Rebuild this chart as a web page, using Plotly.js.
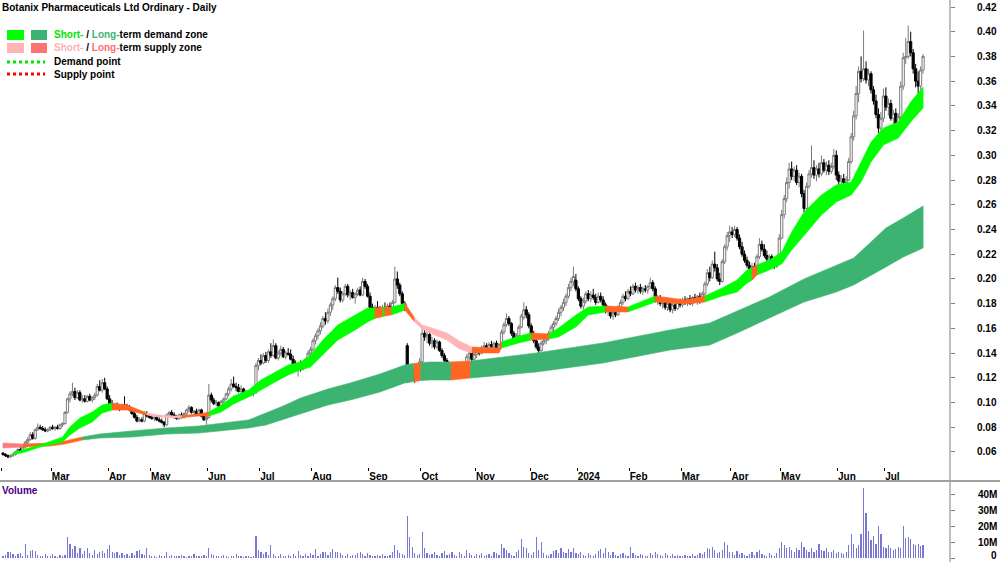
<!DOCTYPE html>
<html><head><meta charset="utf-8">
<script src="https://cdn.plot.ly/plotly-3.0.1.min.js"></script>
<style>html,body{margin:0;padding:0;background:#fff}#chart{width:1000px;height:562px}</style>
</head><body><div id="chart"></div>
<script>
// Daily OHLC in cents (trading days from 1 Feb 2023)
const openC=[
5.9,5.8,5.7,5.6,5.7,5.8,6.0,6.2,6.1,6.4,6.8,7.0,7.4,7.1,7.8,8.0,7.9,7.8,7.7,7.8,
8.0,7.9,8.0,7.9,8.2,8.3,9.2,10.3,10.7,10.9,10.4,10.8,10.2,10.3,10.1,10.5,10.2,10.4,10.6,11.3,11.0,11.6,11.1,
10.3,9.9,9.6,9.7,9.6,9.5,9.8,9.7,9.6,9.4,9.1,8.8,8.5,8.6,8.5,9.1,8.9,
8.8,8.7,8.8,8.6,8.5,8.4,8.2,9.0,9.2,9.0,8.8,8.7,9.0,8.8,9.1,9.4,9.6,9.2,9.3,9.1,9.4,8.9,8.6,
8.8,10.6,10.2,9.9,10.0,9.7,10.1,10.3,10.7,11.1,11.5,11.3,11.2,10.9,11.1,10.7,10.8,10.6,10.7,10.8,13.0,
13.4,13.2,13.8,13.4,14.1,13.8,14.6,13.6,14.0,14.3,13.7,14.0,13.9,13.5,13.0,12.8,13.1,12.7,13.2,13.5,14.0,
14.3,15.0,15.4,15.8,16.2,16.8,16.6,17.3,17.9,18.4,19.3,19.0,18.3,18.8,19.4,18.7,18.9,18.5,18.8,19.1,18.7,19.8,19.4,
18.6,17.7,17.3,17.7,17.5,17.2,17.7,17.4,17.8,17.6,18.1,20.0,19.5,18.8,18.0,14.6,12.0,12.7,12.2,11.8,12.9,
13.3,15.6,15.3,15.5,14.8,15.0,14.5,14.9,14.2,13.8,13.4,12.9,13.0,12.4,12.1,12.7,12.3,12.8,12.5,13.7,14.0,13.5,
13.9,14.2,14.0,14.4,14.6,14.3,14.7,14.5,14.8,14.4,14.7,15.7,16.3,16.8,16.4,15.6,15.1,15.4,16.1,16.9,17.5,17.1,
16.2,15.5,15.0,14.5,14.2,14.8,15.0,15.2,15.6,16.1,16.4,16.8,17.3,17.7,18.1,18.6,19.3,19.8,19.9,
19.2,18.4,17.8,18.2,18.8,18.4,18.7,18.5,18.1,18.6,18.3,17.9,17.4,17.6,17.0,17.3,17.1,17.7,18.1,18.6,18.4,
19.0,18.8,19.4,19.1,19.3,19.0,19.2,19.1,19.4,19.7,19.2,18.3,18.5,18.0,18.2,17.7,18.0,17.5,17.9,17.6,18.1,
17.9,18.3,18.1,18.4,18.0,18.5,18.3,18.6,18.2,18.8,19.6,20.5,20.1,21.2,20.9,20.0,19.8,21.4,22.6,23.5,
23.8,23.6,24.0,23.3,22.6,22.0,21.5,21.1,20.8,21.0,20.7,21.8,22.8,22.4,21.9,21.6,21.8,21.3,21.0,21.6,
23.3,25.2,26.5,27.8,28.9,28.3,28.8,27.8,28.3,26.9,25.7,27.5,28.5,29.0,28.4,28.9,28.5,29.4,28.8,29.2,28.7,29.1,30.0,
28.4,27.9,28.1,27.8,28.0,29.5,31.5,33.2,35.0,36.8,36.2,37.0,36.1,36.6,35.3,34.4,33.3,32.2,33.0,
34.8,33.9,34.2,33.0,33.4,32.5,33.1,35.6,37.9,38.0,39.2,38.3,37.0,36.0,35.6,36.9];
const highC=[
6.0,5.9,5.8,5.8,5.9,6.1,6.3,6.4,6.5,6.9,7.2,7.6,7.6,7.9,8.3,8.2,8.1,8.0,7.9,8.1,
8.2,8.1,8.2,8.3,8.4,9.3,10.4,10.9,11.6,11.2,11.0,11.0,10.6,10.6,10.6,10.7,10.5,10.8,11.5,11.8,11.9,12.0,11.3,
10.6,10.2,9.9,10.0,9.8,9.9,10.5,9.9,9.8,9.6,9.3,9.0,8.8,8.8,9.3,9.3,9.1,
9.0,8.9,8.9,8.8,8.7,8.5,9.1,9.3,9.4,9.2,9.0,9.1,9.2,9.2,9.5,9.8,9.7,9.4,9.5,9.5,9.5,9.1,8.9,
11.5,10.8,10.4,10.2,10.1,10.2,10.4,10.8,11.3,11.9,12.1,11.6,11.5,11.4,11.2,11.0,11.0,10.9,11.0,13.2,13.6,
13.9,14.0,14.1,14.3,14.8,15.1,14.8,14.2,14.6,14.5,14.2,14.4,14.3,13.8,13.4,13.3,13.4,13.3,13.6,14.2,14.5,
15.2,15.6,16.0,16.5,17.0,17.3,17.6,18.1,18.6,19.5,20.1,19.3,19.0,19.6,19.6,19.1,19.2,18.9,19.3,19.4,20.1,20.0,19.6,
18.9,18.0,17.9,18.2,17.8,17.9,18.1,18.0,18.1,18.3,21.0,20.6,19.7,19.0,18.2,14.8,13.0,13.0,12.6,13.1,13.6,
16.0,16.0,15.8,15.7,15.3,15.2,15.1,15.0,14.4,14.0,13.6,13.3,13.2,12.7,12.9,12.9,12.9,13.0,13.9,14.2,14.2,14.1,
14.3,14.4,14.6,14.9,14.8,14.9,15.0,14.9,15.0,14.8,15.9,16.5,17.2,17.0,16.5,15.8,15.6,16.3,17.2,18.1,17.8,17.3,
16.4,15.8,15.2,14.8,15.0,15.2,15.4,15.8,16.3,16.6,17.0,17.6,17.9,18.4,18.8,19.6,20.1,21.0,20.4,
19.4,18.6,18.5,19.0,19.1,19.0,19.2,18.8,18.9,18.9,18.6,18.1,17.8,17.8,17.5,17.6,17.9,18.3,18.8,19.0,19.2,
19.4,19.6,19.7,19.5,19.6,19.4,19.5,19.5,20.1,19.9,19.4,18.7,18.7,18.4,18.5,18.2,18.3,18.1,18.2,18.3,18.4,
18.5,18.6,18.5,18.7,18.6,18.8,18.7,18.9,19.0,19.8,20.8,21.0,21.5,22.2,21.2,20.5,21.6,22.8,23.8,24.3,
24.2,24.3,24.2,23.6,23.0,22.3,21.8,21.4,21.3,21.3,22.0,23.3,23.1,22.8,22.3,22.0,22.0,21.5,21.8,23.6,
25.6,26.8,28.2,29.4,29.5,29.1,29.2,28.6,28.5,27.2,27.8,28.8,30.8,29.6,29.2,29.4,30.0,29.7,29.5,29.6,29.4,30.5,30.4,
28.7,28.4,28.5,28.3,29.8,31.8,33.6,35.6,37.2,38.0,40.1,37.6,37.0,36.8,35.6,34.9,33.8,33.5,35.4,
35.5,34.6,34.5,33.7,33.8,33.4,36.0,38.3,39.5,40.5,40.0,38.6,37.4,36.8,37.2,38.2];
const lowC=[
5.7,5.6,5.5,5.5,5.6,5.7,5.9,6.0,6.0,6.3,6.6,6.9,7.0,7.0,7.7,7.8,7.7,7.6,7.6,7.7,
7.8,7.7,7.8,7.8,8.0,8.2,9.1,10.0,10.5,10.2,10.3,10.1,10.0,10.0,10.0,10.1,10.0,10.2,10.5,10.9,10.8,11.0,10.2,
9.7,9.5,9.4,9.5,9.3,9.4,9.6,9.4,9.3,9.0,8.7,8.4,8.4,8.4,8.4,8.8,8.7,
8.6,8.5,8.5,8.4,8.3,8.0,8.1,8.8,8.9,8.7,8.6,8.6,8.7,8.7,9.0,9.2,9.1,9.0,9.0,9.0,8.8,8.5,8.2,
8.7,10.0,9.8,9.7,9.6,9.6,9.9,10.2,10.5,10.9,11.2,10.9,10.8,10.7,10.6,10.5,10.5,10.5,10.5,10.7,12.6,
13.0,13.1,13.2,13.2,13.6,13.7,13.5,13.4,13.8,13.6,13.5,13.8,13.4,12.9,12.6,12.1,12.5,12.6,12.9,13.3,13.8,
14.1,14.7,15.1,15.5,16.0,16.3,16.4,17.0,17.5,18.2,18.8,18.1,18.1,18.6,18.5,18.3,18.4,18.0,18.6,18.6,18.6,19.2,18.5,
17.5,17.1,17.1,17.3,16.9,17.0,17.3,17.2,17.4,17.5,18.0,19.2,18.6,17.8,17.4,11.6,11.6,11.9,11.6,11.7,12.4,
13.2,15.0,14.8,14.6,14.4,14.3,14.3,14.1,13.6,13.2,12.7,12.5,12.2,11.9,12.0,12.1,12.2,12.3,12.4,13.4,13.3,13.2,
13.6,13.8,13.9,14.2,14.1,14.2,14.3,14.3,14.3,14.2,14.6,15.5,16.1,16.2,15.4,14.9,14.9,15.3,16.0,16.7,16.8,16.0,
15.3,14.8,14.3,13.9,14.1,14.6,14.7,15.0,15.4,15.8,16.2,16.6,17.0,17.4,17.8,18.4,19.0,19.4,19.0,
18.2,17.6,17.5,18.0,18.2,18.1,18.3,17.9,18.0,18.1,17.7,17.2,17.0,16.8,16.7,16.9,17.0,17.5,17.9,18.2,18.3,
18.6,18.7,18.9,18.8,18.8,18.7,18.9,18.8,19.2,19.0,18.1,17.9,17.8,17.6,17.5,17.4,17.3,17.2,17.4,17.5,17.7,
17.7,17.9,17.8,17.9,17.8,18.1,17.9,18.0,18.1,18.6,19.4,19.8,20.0,20.6,19.8,19.5,19.7,21.2,22.3,23.0,
23.3,23.4,23.1,22.4,21.8,21.3,20.9,20.6,20.6,20.5,20.6,21.6,22.2,21.7,21.4,21.2,21.1,20.8,20.9,21.5,
23.2,24.9,26.2,27.3,28.0,27.9,27.6,27.4,26.6,25.4,25.5,27.3,28.2,28.1,27.9,28.2,28.3,28.6,28.4,28.4,28.5,28.9,28.0,
27.6,27.5,27.6,27.5,27.9,29.3,31.2,32.9,34.3,35.9,36.0,35.8,35.6,35.0,34.1,33.0,31.8,30.8,32.7,
33.6,33.2,32.8,32.3,32.2,32.1,32.9,35.3,37.4,37.8,38.0,36.6,35.5,34.8,35.3,36.6];
const closeC=[
5.8,5.7,5.6,5.7,5.8,6.0,6.2,6.1,6.4,6.8,7.0,7.4,7.1,7.8,8.0,7.9,7.8,7.7,7.8,8.0,
7.9,8.0,7.9,8.2,8.3,9.2,10.3,10.7,10.9,10.4,10.8,10.2,10.3,10.1,10.5,10.2,10.4,10.6,11.3,11.0,11.6,11.1,10.3,
9.9,9.6,9.7,9.6,9.5,9.8,9.7,9.6,9.4,9.1,8.8,8.5,8.6,8.5,9.1,8.9,8.8,
8.7,8.8,8.6,8.5,8.4,8.2,9.0,9.2,9.0,8.8,8.7,9.0,8.8,9.1,9.4,9.6,9.2,9.3,9.1,9.4,8.9,8.6,8.8,
10.6,10.2,9.9,10.0,9.7,10.1,10.3,10.7,11.1,11.5,11.3,11.2,10.9,11.1,10.7,10.8,10.6,10.7,10.8,13.0,13.4,
13.2,13.8,13.4,14.1,13.8,14.6,13.6,14.0,14.3,13.7,14.0,13.9,13.5,13.0,12.8,13.1,12.7,13.2,13.5,14.0,14.3,
15.0,15.4,15.8,16.2,16.8,16.6,17.3,17.9,18.4,19.3,19.0,18.3,18.8,19.4,18.7,18.9,18.5,18.8,19.1,18.7,19.8,19.4,18.6,
17.7,17.3,17.7,17.5,17.2,17.7,17.4,17.8,17.6,18.1,20.0,19.5,18.8,18.0,17.6,12.0,12.7,12.2,11.8,12.9,13.3,
15.6,15.3,15.5,14.8,15.0,14.5,14.9,14.2,13.8,13.4,12.9,13.0,12.4,12.1,12.7,12.3,12.8,12.5,13.7,14.0,13.5,13.9,
14.2,14.0,14.4,14.6,14.3,14.7,14.5,14.8,14.4,14.7,15.7,16.3,16.8,16.4,15.6,15.1,15.4,16.1,17.0,17.5,17.1,16.2,
15.5,15.0,14.5,14.2,14.8,15.0,15.2,15.6,16.1,16.4,16.8,17.3,17.7,18.1,18.6,19.3,19.8,20.2,19.2,
18.4,17.8,18.2,18.8,18.4,18.7,18.5,18.1,18.6,18.3,17.9,17.4,17.6,17.0,17.3,17.1,17.7,18.1,18.6,18.4,19.0,
18.8,19.4,19.1,19.3,19.0,19.2,19.1,19.4,19.7,19.2,18.3,18.5,18.0,18.2,17.7,18.0,17.5,17.9,17.6,18.1,17.9,
18.3,18.1,18.4,18.0,18.5,18.3,18.6,18.2,18.8,19.6,20.5,20.1,21.2,20.9,20.0,19.8,21.4,22.6,23.5,23.8,
23.6,24.0,23.3,22.6,22.0,21.5,21.1,20.8,21.0,20.7,21.8,22.8,22.4,21.9,21.6,21.8,21.3,21.0,21.6,23.3,
25.2,26.5,27.8,28.9,28.3,28.8,27.8,28.3,26.9,25.7,27.5,28.5,29.0,28.4,28.9,28.5,29.4,28.8,29.2,28.7,29.1,30.0,28.4,
27.9,28.1,27.8,28.0,29.5,31.5,33.2,35.0,36.8,36.2,37.0,36.1,36.6,35.3,34.4,33.3,32.2,33.0,34.8,
33.9,34.2,33.0,33.4,32.5,33.1,35.6,37.9,38.0,39.2,38.3,37.0,36.0,35.6,36.9,38.0];
// Daily volume in millions
const volM=[
1.5,2.0,3.5,4.0,2.5,1.5,2.2,3.0,1.0,9.0,2.0,4.5,5.0,4.2,2.0,1.2,1.0,2.5,1.4,1.0,
2.2,1.5,0.8,1.8,1.0,2.0,13.0,8.5,5.5,7.5,3.0,6.0,2.5,4.5,6.0,3.0,1.8,5.2,2.5,3.5,
4.5,3.2,5.5,8.0,3.5,3.0,4.0,1.8,3.0,2.0,2.5,1.5,3.2,2.0,4.5,4.8,2.5,2.0,6.0,2.0,
1.0,1.5,0.8,2.0,1.2,1.0,3.8,1.5,2.0,1.2,1.0,1.5,2.0,1.2,0.8,1.5,1.0,2.5,1.2,1.0,
1.5,2.0,1.0,6.0,2.5,1.8,1.5,1.0,1.5,2.0,1.2,0.8,1.5,1.0,2.2,1.0,1.5,0.8,1.0,1.2,
0.8,1.5,14.0,5.0,3.5,2.5,4.0,2.0,8.0,2.5,1.5,1.0,2.2,1.5,1.2,1.8,1.0,2.5,1.5,4.5,
2.0,1.5,2.5,1.2,3.0,2.0,5.5,1.5,2.5,4.0,3.5,2.0,4.0,5.5,3.5,4.0,3.0,2.0,1.5,2.5,
1.5,2.0,1.8,3.0,4.0,2.5,1.5,3.0,2.0,1.2,1.0,2.0,1.5,2.5,1.0,1.5,2.0,3.5,8.0,5.0,
3.0,2.5,2.0,26.0,13.0,7.0,3.0,2.0,2.5,16.0,6.0,3.0,2.0,2.5,4.0,2.0,1.5,3.0,4.5,2.0,
2.5,3.5,2.0,1.5,4.0,2.5,1.5,5.0,3.0,2.0,1.5,2.5,2.0,3.0,1.5,2.0,2.5,1.5,4.0,3.0,
2.0,9.0,6.0,5.0,3.0,2.0,1.5,3.5,5.0,12.0,7.0,6.0,3.0,2.0,4.0,13.0,5.0,10.0,3.0,2.0,
1.5,2.5,4.5,5.0,3.0,6.0,4.0,3.0,5.5,4.0,6.0,3.0,2.5,4.0,2.0,1.5,3.0,2.0,1.5,2.5,
4.5,5.5,3.0,6.0,4.0,2.0,3.5,2.0,1.5,2.5,3.0,2.0,1.5,7.0,3.0,2.0,1.5,2.5,2.0,1.5,
1.0,3.0,2.0,4.0,2.5,2.0,1.5,3.0,2.0,1.5,2.5,1.5,2.0,1.0,1.5,2.0,1.5,1.0,2.5,1.5,
2.0,3.0,2.5,4.0,6.0,5.5,7.0,5.0,3.0,4.0,5.0,10.0,8.0,4.0,3.5,2.0,4.5,2.5,3.0,2.0,
1.5,2.5,3.5,2.0,4.0,5.0,2.5,2.0,1.5,3.0,2.0,1.5,3.0,6.0,10.0,8.0,6.0,7.0,5.0,4.0,
6.0,5.0,10.0,7.0,5.0,4.0,6.0,3.5,5.0,9.0,5.0,4.5,6.0,3.5,4.0,5.0,3.0,4.0,3.0,2.5,
3.5,8.0,15.0,9.0,6.0,8.0,15.0,44.0,28.0,17.0,11.0,14.0,9.0,20.0,15.0,7.0,6.0,8.0,6.5,5.0,
5.5,7.0,6.0,20.0,12.5,13.0,12.0,9.0,8.0,8.5,7.5,8.0];
// Short-term zone (cents) sampled at bar index, colour of the stretch that starts there
const shortX=[4,9,15,20,24,27,31,36,40,44,50,55,58,63,69,72,79,83,88,93,99,104,109,115,120,124,129,135,142,147,150,153,154,156.5,160,162,164.5,166,169,173,179,184,189,200,201,208,213,220,224,231,236,243,252,263,275,283,290,296,300,302,304,309,314,318,323,330,336,342,346,350,355,361,366,371];
const shortUp=[5.92,6.24,6.56,6.89,7.21,8.02,8.75,9.23,9.80,9.96,9.80,9.39,9.15,8.99,8.91,8.95,9.07,9.23,9.80,10.53,11.01,11.82,12.39,13.04,13.28,13.85,15.06,16.27,17.08,17.65,17.65,17.70,17.72,17.73,17.89,18.05,17.33,16.84,16.27,16.03,15.63,14.98,14.49,14.41,14.90,15.38,15.63,15.55,16.03,17.08,17.73,17.81,17.73,18.62,18.30,18.62,19.27,19.91,20.72,20.90,21.13,21.53,22.18,23.80,25.41,26.79,27.60,27.84,29.46,31.08,32.21,32.70,34.31,35.53];
const shortLo=[5.76,6.00,6.40,6.64,6.81,7.37,7.94,8.42,9.15,9.39,9.39,9.15,8.99,8.83,8.75,8.78,8.91,8.91,9.23,9.88,10.44,11.01,11.58,12.23,12.63,12.87,13.85,15.06,15.87,16.52,16.80,16.95,17.00,17.08,17.33,17.49,16.92,16.52,15.95,15.54,15.06,14.33,14.01,14.01,14.41,14.82,15.06,15.14,15.30,16.11,17.08,17.33,17.33,18.13,17.97,18.13,18.62,18.94,19.67,19.90,20.32,20.72,21.21,22.34,23.55,25.17,26.22,26.79,27.84,29.46,30.83,31.40,32.70,33.83];
const shortCol=['g','g','g','g','g','g','g','g','g','o','o','o','p','p','p','o','o','g','g','g','g','g','g','g','g','g','g','g','g','g','o','g','o','g','g','o','o','p','p','p','p','p','o','o','g','g','o','g','g','g','g','o','g','o','o','g','g','g','g','o','g','g','g','g','g','g','g','g','g','g','g','g','g','g'];
// Long-term zone (cents)
const longX=[0,8,19,25,32,39,52,66,79,92,99,106,113,120,131,140,152,162,165.5,168.5,172,180.5,188.5,215,242,269,285,297,309,323,336,343,350,356,363,371];
const longUp=[6.72,6.64,6.72,6.89,7.21,7.45,7.70,7.94,8.10,8.42,8.59,9.15,9.72,10.37,11.09,11.58,12.31,13.04,13.15,13.22,13.28,13.28,13.36,14.01,14.82,15.87,16.43,17.49,18.54,20.00,21.13,21.69,22.99,24.12,24.93,25.90];
const longLo=[6.32,6.40,6.48,6.64,6.97,7.13,7.21,7.45,7.53,7.78,7.94,8.18,8.59,9.07,9.80,10.20,10.85,11.58,11.70,11.78,11.82,11.82,11.98,12.47,13.20,14.25,14.65,15.71,16.84,18.13,18.94,19.51,20.32,20.96,21.77,22.50];
const longCol=['r','o','o','o','G','G','G','G','G','G','G','G','G','G','G','G','G','G','o','G','G','o','G','G','G','G','G','G','G','G','G','G','G','G','G','G'];
// Axis ticks
const monthIdx=[0,20,43,60,83,104,125,148,169,191,213,232,253,274,294,314,337,356];
const monthLabels=['','Mar','Apr','May','Jun','Jul','Aug','Sep','Oct','Nov','Dec','2024','Feb','Mar','Apr','May','Jun','Jul'];
const priceTicks=[0.06,0.08,0.10,0.12,0.14,0.16,0.18,0.20,0.22,0.24,0.26,0.28,0.30,0.32,0.34,0.36,0.38,0.40,0.42];
const volTicks=[0,10,20,30,40];
const volTickText=['0','10M','20M','30M','40M'];

const W=1000,H=562;
const px=x=>x/W, py=y=>1-y/H;
const N=closeC.length;
const idx=Array.from({length:N},(_,i)=>i);
const toP=a=>a.map(v=>v/100);
const colorMap={g:'#00FF00',o:'#FF6622',p:'#FFB5B5',r:'#FF7B7B',G:'#3CB371'};

function bandTraces(xs,up,lo,cols){
  const groups={};
  let i=0;
  while(i<xs.length-1){
    const c=cols[i]; let j=i;
    while(j<xs.length-1 && cols[j]===c) j++;
    const g=groups[c]||(groups[c]={x:[],y:[]});
    const xs1=xs.slice(i,j+1), u=up.slice(i,j+1), l=lo.slice(i,j+1);
    g.x.push(...xs1, ...xs1.slice().reverse(), xs1[0], null);
    g.y.push(...u.map(v=>v/100), ...l.slice().reverse().map(v=>v/100), u[0]/100, null);
    i=j;
  }
  return Object.keys(groups).map(c=>({type:'scatter',mode:'lines',x:groups[c].x,y:groups[c].y,fill:'toself',
    fillcolor:colorMap[c],line:{color:colorMap[c],width:0.6},hoverinfo:'skip',showlegend:false,xaxis:'x',yaxis:'y'}));
}

const traces=[
  ...bandTraces(longX,longUp,longLo,longCol),
  ...bandTraces(shortX,shortUp,shortLo,shortCol),
  {type:'candlestick',x:idx,open:toP(openC),high:toP(highC),low:toP(lowC),close:toP(closeC),
   increasing:{line:{color:'#7a7a7a',width:1},fillcolor:'#ffffff'},
   decreasing:{line:{color:'#000000',width:1},fillcolor:'#000000'},
   whiskerwidth:0,hoverinfo:'skip',showlegend:false,xaxis:'x',yaxis:'y'},
  {type:'bar',x:idx,y:volM,marker:{color:'#7878D4',line:{width:0}},width:0.5,hoverinfo:'skip',showlegend:false,xaxis:'x2',yaxis:'y2'}
];

const F='"Liberation Sans", Arial, sans-serif';
const bold={family:F,size:10,color:'#000',weight:'bold'};
const ann=(x,y,text,extra)=>Object.assign({xref:'paper',yref:'paper',x:px(x),y:py(y),xanchor:'left',yanchor:'middle',
  showarrow:false,text:text,font:bold,borderpad:0},extra||{});

const annotations=[
  ann(1,8,'Botanix Pharmaceuticals Ltd Ordinary - Daily'),
  ann(53,35,'<span style="color:#00e600">Short-</span> / <span style="color:#3cb371">Long-</span>term demand zone'),
  ann(53,48,'<span style="color:#ffb0b0">Short-</span> / <span style="color:#ff7070">Long-</span>term supply zone'),
  ann(53,62,'Demand point'),
  ann(53,75,'Supply point'),
  ann(1,490,'Volume',{font:{family:F,size:10,color:'#4B0082',weight:'bold'}})
];
volTicks.forEach((v,k)=>annotations.push({xref:'paper',yref:'y2',x:px(998),y:v,xanchor:'right',yanchor:'middle',
  showarrow:false,text:volTickText[k],font:bold,borderpad:0,yshift:(v===0?3:0)}));

const shapes=[
  {type:'line',xref:'paper',yref:'paper',x0:0.95,x1:0.95,y0:0,y1:1,line:{color:'#808080',width:1}},
  {type:'line',xref:'paper',yref:'paper',x0:0,x1:1,y0:py(481),y1:py(481),line:{color:'#a0a0a0',width:2}},
  {type:'rect',xref:'paper',yref:'paper',x0:px(7),x1:px(24),y0:py(40),y1:py(30),fillcolor:'#00FF00',line:{width:0}},
  {type:'rect',xref:'paper',yref:'paper',x0:px(31),x1:px(47),y0:py(40),y1:py(30),fillcolor:'#3CB371',line:{width:0}},
  {type:'rect',xref:'paper',yref:'paper',x0:px(7),x1:px(24),y0:py(53),y1:py(43),fillcolor:'#FFB5B5',line:{width:0}},
  {type:'rect',xref:'paper',yref:'paper',x0:px(31),x1:px(47),y0:py(53),y1:py(43),fillcolor:'#FF7373',line:{width:0}},
  {type:'line',xref:'paper',yref:'paper',x0:px(7),x1:px(45),y0:py(62),y1:py(62),line:{color:'#00E600',width:3,dash:'dot'}},
  {type:'line',xref:'paper',yref:'paper',x0:px(7),x1:px(45),y0:py(74),y1:py(74),line:{color:'#FF0000',width:3,dash:'dot'}}
];

const xr=[-1.21,381.85];
const layout={
  width:W,height:H,margin:{l:0,r:0,t:0,b:0,pad:0},paper_bgcolor:'#ffffff',plot_bgcolor:'#ffffff',showlegend:false,
  font:{family:F,size:10,color:'#000'},
  xaxis:{domain:[0,0.95],range:xr,anchor:'y',showgrid:false,zeroline:false,showline:false,tickmode:'array',
    tickvals:monthIdx.map(v=>v-0.5),ticktext:monthLabels,ticks:'outside',ticklen:3,tickcolor:'#000',tickwidth:1,
    tickfont:bold,ticklabelposition:'outside right',rangeslider:{visible:false},fixedrange:true},
  yaxis:{domain:[1-467/H,1],range:[0.047832,0.425663],side:'right',anchor:'x',showgrid:false,zeroline:false,showline:false,
    tickmode:'array',tickvals:priceTicks,ticktext:priceTicks.map(v=>v.toFixed(2)),ticks:'outside',ticklen:4,
    tickcolor:'#808080',tickfont:bold,ticklabelstandoff:20,fixedrange:true},
  xaxis2:{domain:[0,0.95],range:xr,anchor:'y2',showticklabels:false,ticks:'',showgrid:false,zeroline:false,showline:false,fixedrange:true},
  yaxis2:{domain:[0,81/H],range:[-2.5,48.125],side:'right',anchor:'x2',tickmode:'array',tickvals:volTicks,ticks:'outside',
    ticklen:4,tickcolor:'#808080',showticklabels:false,showgrid:false,zeroline:false,showline:false,fixedrange:true},
  bargap:0,boxgap:0.12,boxgroupgap:0,shapes:shapes,annotations:annotations
};
Plotly.newPlot('chart',traces,layout,{staticPlot:true,displayModeBar:false});
</script></body></html>
